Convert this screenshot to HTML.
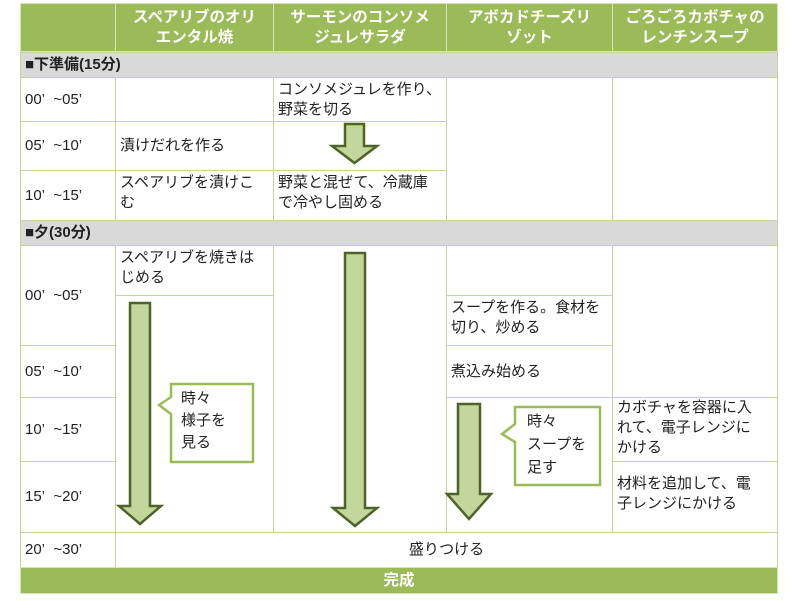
<!DOCTYPE html>
<html><head><meta charset="utf-8"><style>
body{margin:0;width:800px;height:601px;background:#fff;position:relative;overflow:hidden;font-family:"Liberation Sans","Noto Sans CJK JP",sans-serif;}
.c{position:absolute;box-sizing:border-box;border:1px solid #c4d79b;font-size:15px;line-height:20px;color:#222;padding:2px 4px;background:#fff;overflow:hidden;white-space:nowrap}
.h{background:#9bbb59;color:#fff;font-weight:bold;text-align:center;font-size:15.5px;line-height:20px;padding-top:4px;border-color:#d8e4bc}
.g{background:#d9d9d9;font-weight:bold;font-size:15px;padding:2px 4px;border-color:#c4d79b}
.m{display:flex;align-items:center}
svg{position:absolute;left:0;top:0}
</style></head><body>
<div class="c h" style="left:20px;top:3px;width:96px;height:49px"></div>
<div class="c h" style="left:115px;top:3px;width:159px;height:49px">スペアリブのオリ<br>エンタル焼</div>
<div class="c h" style="left:273px;top:3px;width:174px;height:49px">サーモンのコンソメ<br>ジュレサラダ</div>
<div class="c h" style="left:446px;top:3px;width:167px;height:49px">アボカドチーズリ<br>ゾット</div>
<div class="c h" style="left:612px;top:3px;width:166px;height:49px">ごろごろカボチャの<br>レンチンスープ</div>

<div class="c g" style="left:20px;top:52px;width:758px;height:26px">■下準備(15分)</div>
<div class="c m" style="left:20px;top:77px;width:96px;height:45px">00’&nbsp;&nbsp;~05’</div>
<div class="c m" style="left:20px;top:121px;width:96px;height:50px">05’&nbsp;&nbsp;~10’</div>
<div class="c m" style="left:20px;top:170px;width:96px;height:51px">10’&nbsp;&nbsp;~15’</div>
<div class="c" style="left:115px;top:77px;width:159px;height:45px"></div>
<div class="c m" style="left:115px;top:121px;width:159px;height:50px">漬けだれを作る</div>
<div class="c" style="left:115px;top:170px;width:159px;height:51px">スペアリブを漬けこ<br>む</div>
<div class="c" style="left:273px;top:77px;width:174px;height:45px">コンソメジュレを作り、<br>野菜を切る</div>
<div class="c" style="left:273px;top:121px;width:174px;height:50px"></div>
<div class="c" style="left:273px;top:170px;width:174px;height:51px">野菜と混ぜて、冷蔵庫<br>で冷やし固める</div>
<div class="c" style="left:446px;top:77px;width:167px;height:144px"></div>
<div class="c" style="left:612px;top:77px;width:166px;height:144px"></div>

<div class="c g" style="left:20px;top:220px;width:758px;height:26px">■夕(30分)</div>
<div class="c m" style="left:20px;top:245px;width:96px;height:101px">00’&nbsp;&nbsp;~05’</div>
<div class="c m" style="left:20px;top:345px;width:96px;height:53px">05’&nbsp;&nbsp;~10’</div>
<div class="c m" style="left:20px;top:397px;width:96px;height:65px">10’&nbsp;&nbsp;~15’</div>
<div class="c m" style="left:20px;top:461px;width:96px;height:72px">15’&nbsp;&nbsp;~20’</div>
<div class="c m" style="left:20px;top:532px;width:96px;height:36px">20’&nbsp;&nbsp;~30’</div>
<div class="c" style="left:115px;top:245px;width:159px;height:51px">スペアリブを焼きは<br>じめる</div>
<div class="c" style="left:115px;top:295px;width:159px;height:238px"></div>
<div class="c" style="left:273px;top:245px;width:174px;height:288px"></div>
<div class="c" style="left:446px;top:245px;width:167px;height:51px"></div>
<div class="c" style="left:446px;top:295px;width:167px;height:51px">スープを作る。食材を<br>切り、炒める</div>
<div class="c m" style="left:446px;top:345px;width:167px;height:53px">煮込み始める</div>
<div class="c" style="left:446px;top:397px;width:167px;height:136px"></div>
<div class="c" style="left:612px;top:245px;width:166px;height:153px"></div>
<div class="c" style="left:612px;top:397px;width:166px;height:65px;padding-top:0">カボチャを容器に入<br>れて、電子レンジに<br>かける</div>
<div class="c" style="left:612px;top:461px;width:166px;height:72px;padding-top:12px">材料を追加して、電<br>子レンジにかける</div>
<div class="c m" style="left:115px;top:532px;width:663px;height:36px;justify-content:center">盛りつける</div>
<div class="c h" style="left:20px;top:567px;width:758px;height:27px;padding-top:3px">完成</div>

<svg width="800" height="601">
<g fill="#c3d69b" stroke="#4f6228" stroke-width="2.5" stroke-linejoin="miter">
<path d="M345,124 H364 V146 H377 L354.5,163 L332,146 H345 Z"/>
<path d="M130,303 H150 V506 H161 L140,524 L119,506 H130 Z"/>
<path d="M345,253 H365 V508 H377 L355,526 L333,508 H345 Z"/>
<path d="M458,404 H480 V494 H491 L469,519 L447,494 H458 Z"/>
</g>
<g fill="#fff" stroke="#9bbb59" stroke-width="2.5">
<path d="M171,384 H253 V462 H171 V414 L159,405 L171,397 Z"/>
<path d="M515,407 H600 V485 H515 V442 L502,434 L515,424 Z"/>
</g>
<g font-size="15" fill="#222" font-family="Liberation Sans,Noto Sans CJK JP,sans-serif">
<text x="181" y="403">時々</text><text x="181" y="425">様子を</text><text x="181" y="447">見る</text>
<text x="527" y="426">時々</text><text x="527" y="449">スープを</text><text x="527" y="472">足す</text>
</g>
</svg>
</body></html>
